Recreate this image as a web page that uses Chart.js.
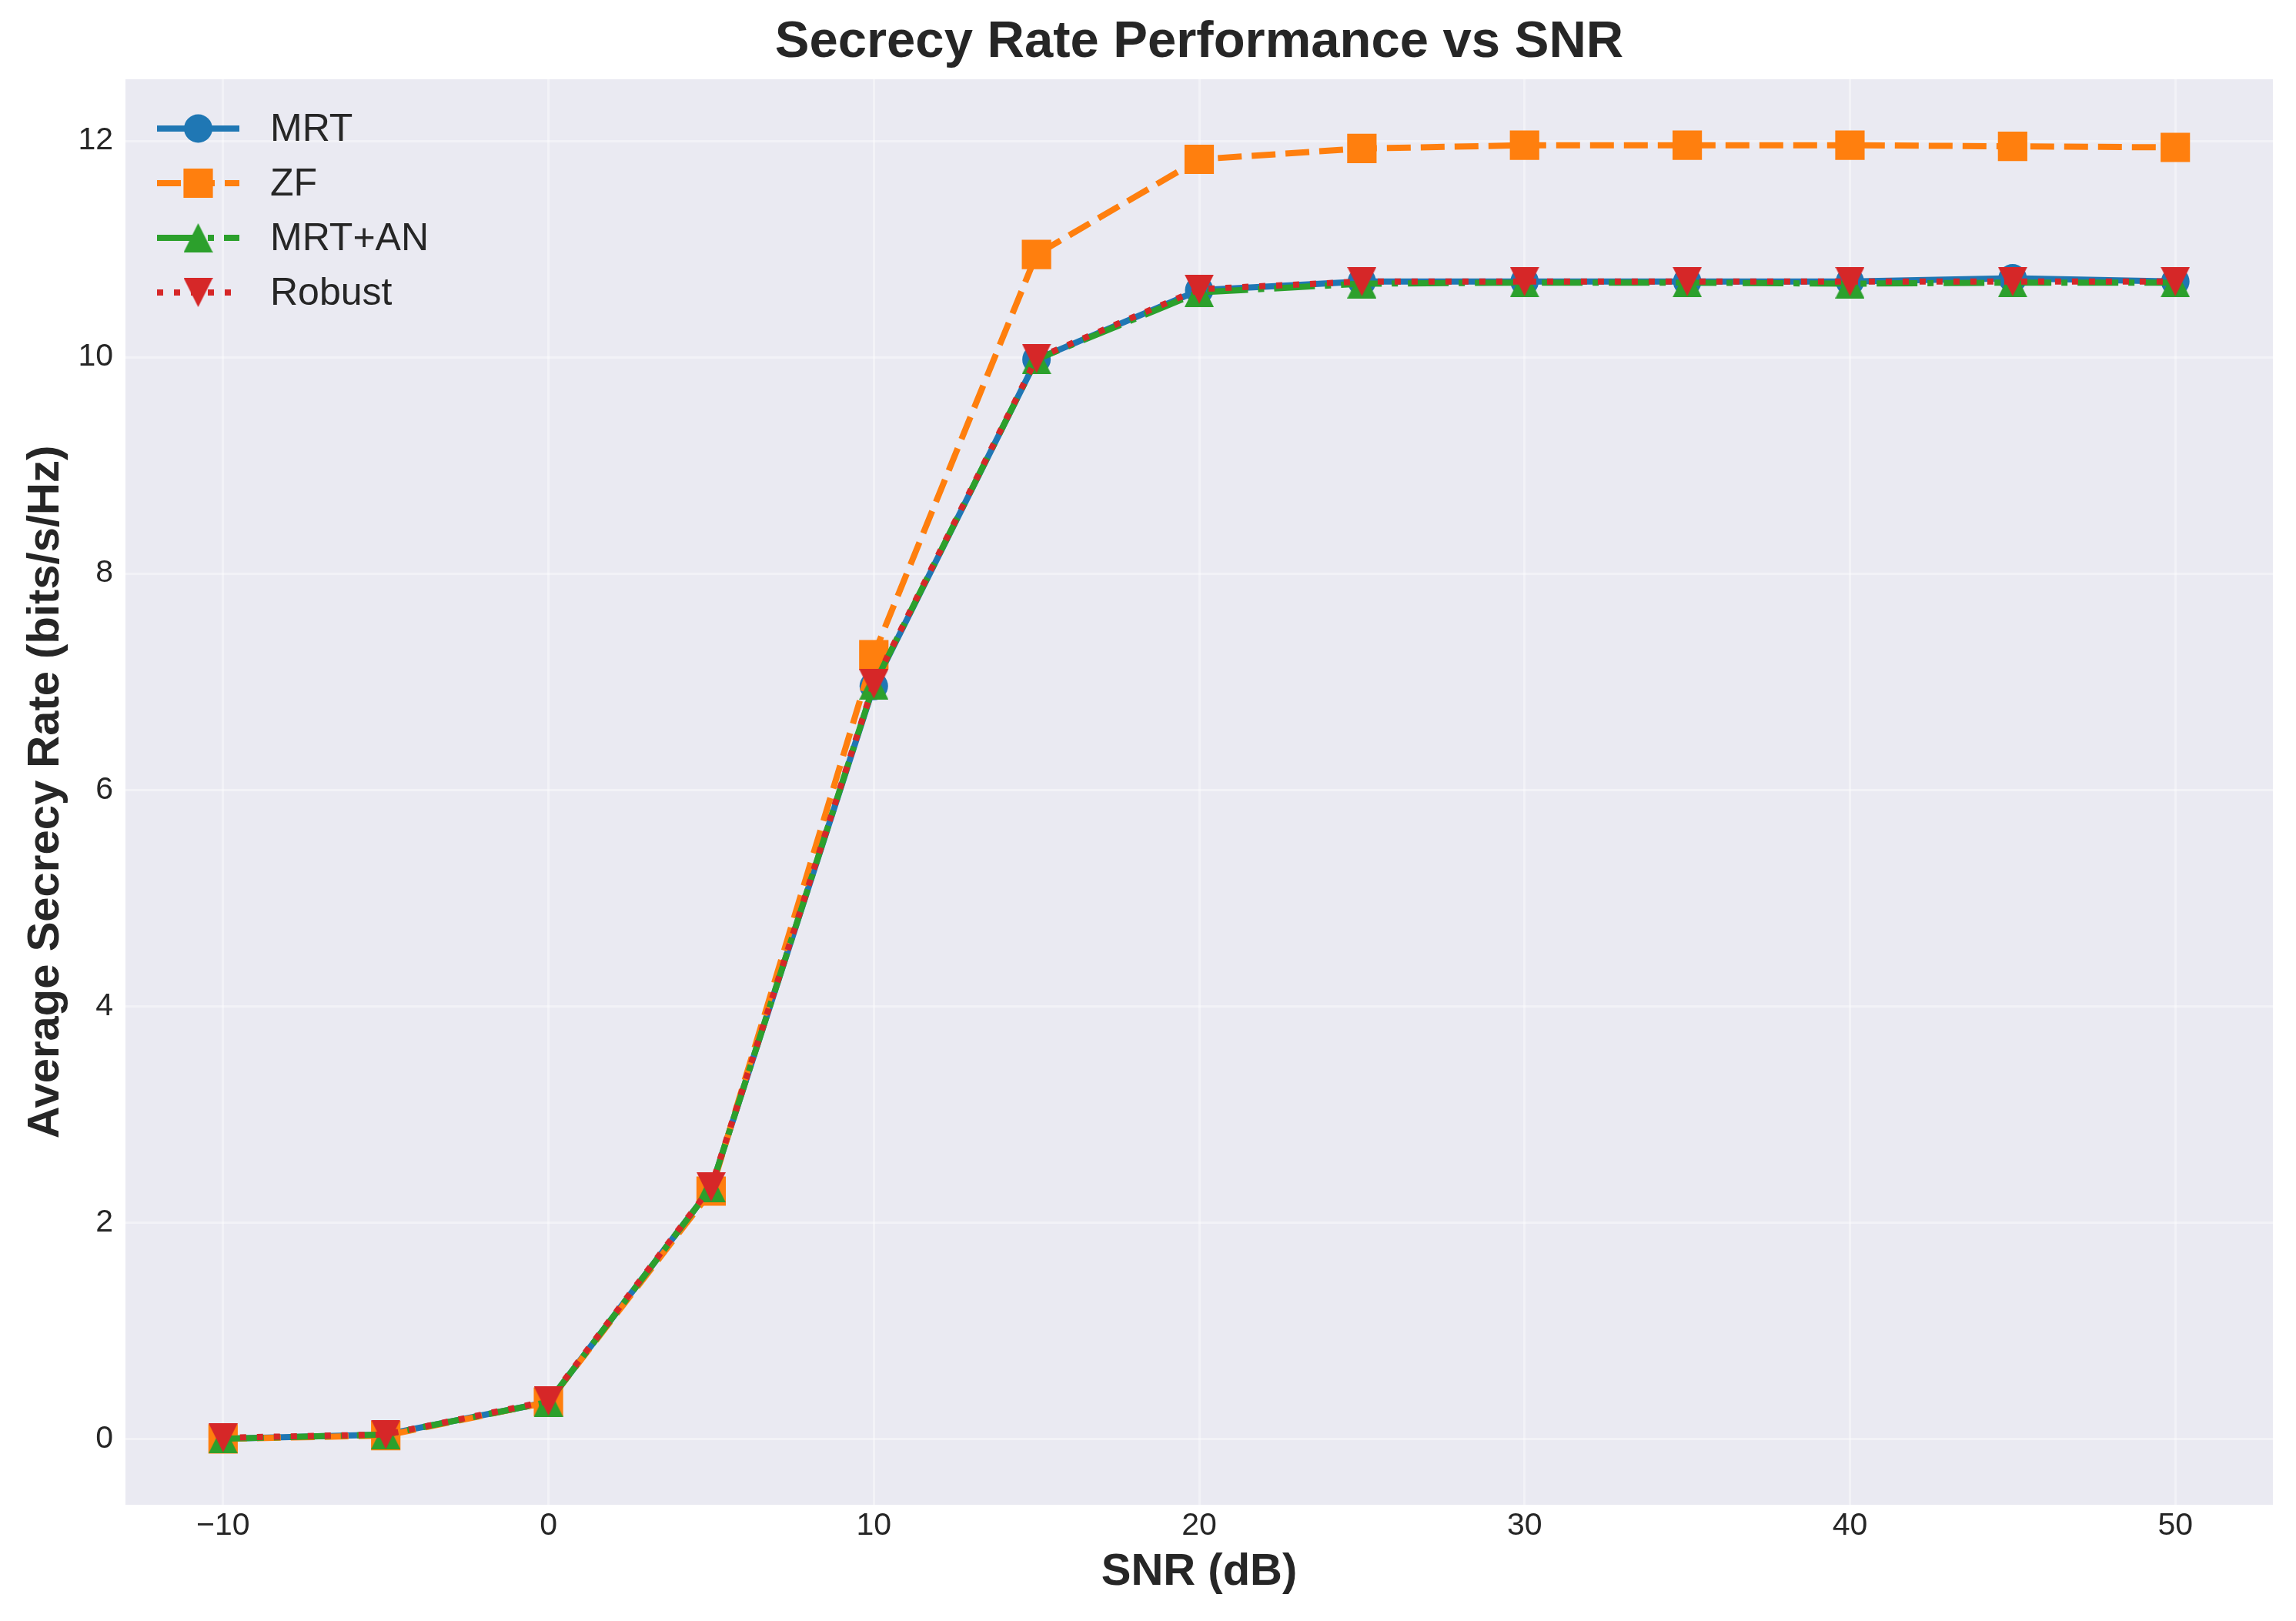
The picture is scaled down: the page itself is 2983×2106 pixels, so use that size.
<!DOCTYPE html>
<html>
<head>
<meta charset="utf-8">
<title>Secrecy Rate Performance vs SNR</title>
<script src="https://cdn.jsdelivr.net/npm/chart.js@4/dist/chart.umd.min.js"></script>
<style>
    html, body { margin: 0; padding: 0; background: #ffffff; }
    #secrecy_chart { display: block; }
</style>
</head>
<body>
<canvas id="secrecy_chart" width="2983" height="2106"></canvas>
<script>
// values
var snrDb = [-10, -5, 0, 5, 10, 15, 20, 25, 30, 35, 40, 45, 50];
var mrtRate = [0.0, 0.04, 0.34, 2.32, 6.96, 9.98, 10.62, 10.70, 10.70, 10.70, 10.70, 10.73, 10.70];
var zfRate = [0.0, 0.03, 0.34, 2.29, 7.25, 10.95, 11.83, 11.93, 11.96, 11.96, 11.96, 11.95, 11.94];
var mrtAnRate = [0.0, 0.04, 0.34, 2.32, 6.97, 9.98, 10.60, 10.68, 10.69, 10.69, 10.68, 10.69, 10.69];
var robustRate = [0.01, 0.04, 0.35, 2.33, 6.98, 9.99, 10.63, 10.70, 10.70, 10.70, 10.70, 10.70, 10.70];
var seriesNames = ['MRT', 'ZF', 'MRT+AN', 'Robust'];
var xTicks = [-10, 0, 10, 20, 30, 40, 50];
var yTicks = [0, 2, 4, 6, 8, 10, 12];
var chartTitle = 'Secrecy Rate Performance vs SNR';

(function () {
    'use strict';

    var textColor = '#262626';
    var fontFamily = "'Liberation Sans', Arial, sans-serif";
    Chart.defaults.font.family = fontFamily;
    Chart.defaults.color = textColor;

    function toPoints(values) {
        return snrDb.map(function (x, i) { return { x: x, y: values[i] }; });
    }

    function triangleMarker(color, down) {
        var size = 38;
        var c = document.createElement('canvas');
        c.width = size;
        c.height = size;
        var g = c.getContext('2d');
        g.fillStyle = color;
        g.beginPath();
        if (down) {
            g.moveTo(0, 0); g.lineTo(size, 0); g.lineTo(size / 2, size);
        } else {
            g.moveTo(size / 2, 0); g.lineTo(size, size); g.lineTo(0, size);
        }
        g.closePath();
        g.fill();
        return c;
    }

    function minusLabel(v) {
        return v < 0 ? '\u2212' + Math.abs(v) : String(v);
    }

    //grey plot area like seaborn darkgrid, title centred over the plot area
    var plotBackground = {
        id: 'plotBackground',
        beforeDraw: function (chart) {
            var a = chart.chartArea, ctx = chart.ctx;
            ctx.save();
            ctx.fillStyle = '#ffffff';
            ctx.fillRect(0, 0, chart.width, chart.height);
            ctx.fillStyle = '#EAEAF2';
            ctx.fillRect(a.left, a.top, a.right - a.left, a.bottom - a.top);
            ctx.fillStyle = textColor;
            ctx.font = 'bold 67px ' + fontFamily;
            ctx.textAlign = 'center';
            ctx.textBaseline = 'middle';
            ctx.fillText(chartTitle, (a.left + a.right) / 2, 56);
            ctx.restore();
        }
    };

    //legend inside the upper left corner, no frame
    var insideLegend = {
        id: 'insideLegend',
        afterDatasetsDraw: function (chart) {
            var ctx = chart.ctx, a = chart.chartArea;
            chart.data.datasets.forEach(function (ds, i) {
                var y = a.top + 64 + i * 71;
                var x0 = a.left + 41, x1 = a.left + 148;
                ctx.save();
                ctx.strokeStyle = ds.borderColor;
                ctx.lineWidth = ds.borderWidth;
                ctx.lineCap = 'butt';
                ctx.setLineDash(ds.borderDash || []);
                ctx.beginPath();
                ctx.moveTo(x0, y);
                ctx.lineTo(x1, y);
                ctx.stroke();
                ctx.setLineDash([]);
                ctx.fillStyle = ds.pointBackgroundColor;
                Chart.helpers.drawPoint(ctx, {
                    pointStyle: ds.pointStyle,
                    radius: ds.pointRadius,
                    rotation: 0,
                    borderWidth: 0
                }, (x0 + x1) / 2, y);
                ctx.fillStyle = textColor;
                ctx.font = '50px ' + fontFamily;
                ctx.textAlign = 'left';
                ctx.textBaseline = 'middle';
                ctx.fillText(ds.label, a.left + 188, y + 2);
                ctx.restore();
            });
        }
    };

    //Init secrecy rate chart
    function initSecrecyChart() {
        var gridColor = 'rgba(255, 255, 255, 0.38)';
        var config = {
            type: 'line',
            data: {
                datasets: [{
                    label: seriesNames[0],
                    data: toPoints(mrtRate),
                    borderColor: '#1f77b4',
                    backgroundColor: '#1f77b4',
                    pointBackgroundColor: '#1f77b4',
                    borderWidth: 8,
                    pointStyle: 'circle',
                    pointRadius: 18.5,
                    pointBorderWidth: 0,
                    order: 4
                }, {
                    label: seriesNames[1],
                    data: toPoints(zfRate),
                    borderColor: '#ff7f0e',
                    backgroundColor: '#ff7f0e',
                    pointBackgroundColor: '#ff7f0e',
                    borderWidth: 8,
                    borderDash: [31, 13],
                    pointStyle: 'rect',
                    pointRadius: 27,
                    pointBorderWidth: 0,
                    order: 3
                }, {
                    label: seriesNames[2],
                    data: toPoints(mrtAnRate),
                    borderColor: '#2ca02c',
                    backgroundColor: '#2ca02c',
                    pointBackgroundColor: '#2ca02c',
                    borderWidth: 8,
                    borderDash: [53, 13, 8, 13],
                    pointStyle: triangleMarker('#2ca02c', false),
                    pointRadius: 19,
                    pointBorderWidth: 0,
                    order: 2
                }, {
                    label: seriesNames[3],
                    data: toPoints(robustRate),
                    borderColor: '#d62728',
                    backgroundColor: '#d62728',
                    pointBackgroundColor: '#d62728',
                    borderWidth: 8,
                    borderDash: [8, 14],
                    pointStyle: triangleMarker('#d62728', true),
                    pointRadius: 19,
                    pointBorderWidth: 0,
                    order: 1
                }]
            },
            options: {
                responsive: false,
                devicePixelRatio: 1,
                animation: false,
                layout: { padding: { left: 0, right: 30, top: 103, bottom: 0 } },
                elements: {
                    line: { tension: 0, borderJoinStyle: 'round', fill: false }
                },
                scales: {
                    x: {
                        type: 'linear',
                        min: -13,
                        max: 53,
                        afterBuildTicks: function (s) {
                            s.ticks = xTicks.map(function (v) { return { value: v }; });
                        },
                        afterFit: function (s) { s.height = 151; },
                        ticks: {
                            callback: minusLabel,
                            font: { size: 41 },
                            color: textColor,
                            padding: 3,
                            maxRotation: 0
                        },
                        grid: { color: gridColor, lineWidth: 3, drawTicks: false },
                        border: { display: false },
                        title: {
                            display: true,
                            text: 'SNR (dB)',
                            color: textColor,
                            font: { size: 58, weight: 'bold' },
                            padding: { top: 0, bottom: 28 }
                        }
                    },
                    y: {
                        type: 'linear',
                        min: -0.61,
                        max: 12.57,
                        afterBuildTicks: function (s) {
                            s.ticks = yTicks.map(function (v) { return { value: v }; });
                        },
                        afterFit: function (s) { s.width = 163; },
                        ticks: {
                            callback: minusLabel,
                            font: { size: 41 },
                            color: textColor,
                            padding: 16
                        },
                        grid: { color: gridColor, lineWidth: 3, drawTicks: false },
                        border: { display: false },
                        title: {
                            display: true,
                            text: 'Average Secrecy Rate (bits/s/Hz)',
                            color: textColor,
                            font: { size: 58, weight: 'bold' },
                            padding: { top: 25, bottom: 0 }
                        }
                    }
                },
                plugins: {
                    legend: { display: false },
                    tooltip: { enabled: false },
                    title: { display: false }
                }
            },
            plugins: [plotBackground, insideLegend]
        };

        var chart = new Chart(document.getElementById('secrecy_chart').getContext('2d'), config);
    }

    initSecrecyChart();
}());
</script>
</body>
</html>
